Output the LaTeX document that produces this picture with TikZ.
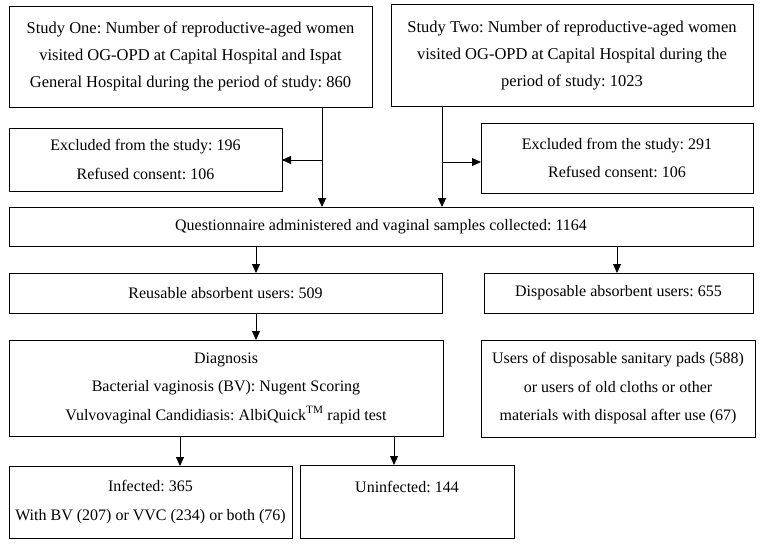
\documentclass[tikz,border=0pt]{standalone}
\usepackage{fontspec}
\setmainfont{Liberation Serif}
\usetikzlibrary{arrows.meta}
\frenchspacing
\begin{document}
\begin{tikzpicture}[x=1pt,y=-1pt,
  box/.style={draw, line width=0.9pt, inner sep=0pt, outer sep=0pt, align=center,
    font=\fontsize{16}{28.5}\selectfont},
  topbox/.style={box, font=\fontsize{16.5}{27}\selectfont},
  arr/.style={line width=0.9pt, -{Triangle[length=9pt,width=8pt]}}]
\useasboundingbox (0,0) rectangle (762,546);
\node[topbox, minimum width=363pt, minimum height=101pt] (s1) at (190.5,56.5)
  {Study One: Number of reproductive-aged women\\visited OG-OPD at Capital Hospital and Ispat\\General Hospital during the period of study: 860};
\node[topbox, minimum width=362pt, minimum height=102pt] (s2) at (572,55)
  {Study Two: Number of reproductive-aged women\\visited OG-OPD at Capital Hospital during the\\period of study: 1023};
\node[box, minimum width=273pt, minimum height=63pt] (e1) at (145.5,159.5)
  {Excluded from the study: 196\\Refused consent: 106};
\node[box, minimum width=272pt, minimum height=70pt] (e2) at (617,158)
  {Excluded from the study: 291\\Refused consent: 106};
\node[box, minimum width=744pt, minimum height=39pt] (q) at (381,226.5)
  {Questionnaire administered and vaginal samples collected: 1164};
\node[box, minimum width=433pt, minimum height=40pt] (r) at (225.5,293)
  {Reusable absorbent users: 509};
\node[box, minimum width=269pt, minimum height=40pt] (d) at (618.5,293)
  {Disposable absorbent users: 655};
\node[box, minimum width=434pt, minimum height=96pt] (dg) at (226,388)
  {Diagnosis\\Bacterial vaginosis (BV): Nugent Scoring\\Vulvovaginal Candidiasis: AlbiQuick\textsuperscript{TM} rapid test};
\node[box, minimum width=274pt, minimum height=97pt] (u) at (618,388.5)
  {Users of disposable sanitary pads (588)\\or users of old cloths or other\\materials with disposal after use (67)};
\node[box, minimum width=283pt, minimum height=72pt] (inf) at (150.5,502)
  {Infected: 365\\With BV (207) or VVC (234) or both (76)};
\node[box, minimum width=214pt, minimum height=73pt] (un) at (407,501.5)
  {Uninfected: 144\\\mbox{}};
\coordinate (x1) at (322,0);
\coordinate (x2) at (442,0);
\coordinate (x3) at (256,0);
\coordinate (x4) at (617,0);
\coordinate (x5) at (180,0);
\coordinate (x6) at (394,0);
\coordinate (b1) at (0,160);
\coordinate (b2) at (0,162);
\draw[arr] (s1.south -| x1) -- (q.north -| x1);
\draw[arr] (b1 -| x1) -- (b1 -| e1.east);
\draw[arr] (s2.south -| x2) -- (q.north -| x2);
\draw[arr] (b2 -| x2) -- (b2 -| e2.west);
\draw[arr] (q.south -| x3) -- (r.north -| x3);
\draw[arr] (q.south -| x4) -- (d.north -| x4);
\draw[arr] (r.south -| x3) -- (dg.north -| x3);
\draw[arr] (dg.south -| x5) -- (inf.north -| x5);
\draw[arr] (dg.south -| x6) -- (un.north -| x6);
\end{tikzpicture}
\end{document}
